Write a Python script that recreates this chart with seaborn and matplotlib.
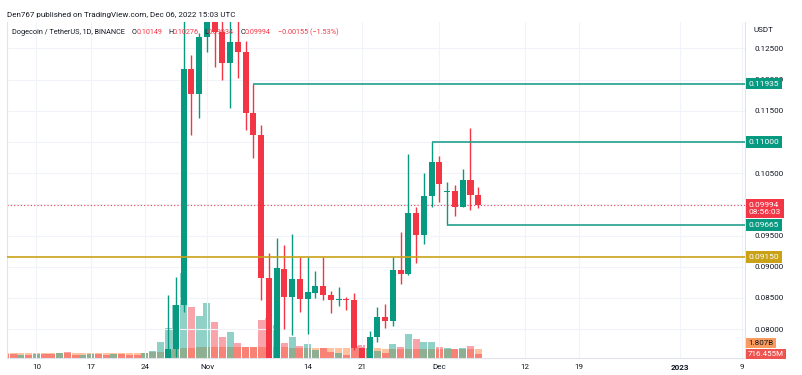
import matplotlib
matplotlib.use("Agg")
import matplotlib.pyplot as plt
import matplotlib.dates as mdates
import numpy as np
import pandas as pd
import seaborn as sns

# daily DOGE/USDT candles, 2022-10-27 .. 2022-12-06
opens = [0.0740, 0.0768, 0.0839, 0.1217, 0.1177, 0.1268, 0.1330, 0.1276, 0.1226, 0.1260,
         0.1244, 0.1146, 0.1111, 0.0882, 0.0740, 0.0896, 0.0851, 0.0880, 0.0848, 0.0858,
         0.0869, 0.0855, 0.0847, 0.0848, 0.0846, 0.0770, 0.0745, 0.0787, 0.0820, 0.0813,
         0.0894, 0.0888, 0.0986, 0.0951, 0.1013, 0.1068, 0.1020, 0.1021, 0.0996, 0.1039,
         0.10149]
highs = [0.0855, 0.0884, 0.1450, 0.1240, 0.1275, 0.1400, 0.1390, 0.1295, 0.1300, 0.1300,
         0.1262, 0.11935, 0.1127, 0.0922, 0.0946, 0.0935, 0.0952, 0.0916, 0.0916, 0.0893,
         0.0916, 0.0861, 0.0868, 0.0852, 0.0858, 0.0772, 0.0797, 0.0835, 0.0841, 0.0916,
         0.0956, 0.1080, 0.0996, 0.1050, 0.1100, 0.1078, 0.1036, 0.1031, 0.1057, 0.1122,
         0.10276]
lows = [0.0735, 0.0755, 0.0827, 0.1111, 0.1138, 0.1244, 0.1220, 0.1199, 0.1154, 0.1202,
        0.1119, 0.1074, 0.0846, 0.0700, 0.0720, 0.0800, 0.0791, 0.0828, 0.0792, 0.0850,
        0.0847, 0.0826, 0.0837, 0.0831, 0.0767, 0.0735, 0.0740, 0.0780, 0.0802, 0.0805,
        0.0872, 0.0887, 0.0906, 0.0936, 0.0996, 0.1004, 0.09665, 0.0981, 0.0995, 0.0991,
        0.09934]
closes = [0.0768, 0.0839, 0.1217, 0.1177, 0.1268, 0.1330, 0.1276, 0.1226, 0.1260, 0.1244,
          0.1146, 0.1111, 0.0882, 0.0740, 0.0898, 0.0851, 0.0880, 0.0848, 0.0859, 0.0869,
          0.0855, 0.0847, 0.0848, 0.0847, 0.0770, 0.0745, 0.0787, 0.0819, 0.0813, 0.0895,
          0.0888, 0.0986, 0.0951, 0.1013, 0.1068, 0.1033, 0.1022, 0.0996, 0.1039, 0.10149,
          0.09994]

# volume in billions, 2022-10-06 .. 2022-12-06
volume = [0.8, 0.8, 0.6, 0.6, 0.8, 0.8, 0.8, 1.0, 1.2, 0.6, 0.6, 0.8, 0.8, 0.6, 0.8, 0.8,
          0.6, 0.6, 1.0, 1.4, 3.2, 6.0, 10.6, 17.0, 10.2, 8.4,
          11.0, 7.2, 4.2, 5.2, 3.0, 2.2, 2.2, 7.6, 8.0, 6.6, 3.0, 4.2, 2.4, 2.8, 1.6,
          2.0, 1.2, 1.0, 0.6, 2.4, 2.6, 2.0, 1.4, 1.0, 2.8, 2.2, 4.8, 3.8, 3.2, 3.2,
          2.2, 2.0, 1.8, 2.0, 2.4, 0.716]
volume_ma = [1.1] * 19 + [1.2, 1.3, 1.5, 1.8, 2.0, 2.1, 2.2,
             2.2, 2.2, 2.2, 2.2, 2.2, 2.2, 2.2, 2.2, 2.2, 2.2, 2.2, 2.1, 2.1, 2.1, 2.1,
             2.1, 2.1, 2.1, 2.0, 2.0, 2.0, 2.0, 2.0, 1.9, 1.9, 1.9, 1.9, 1.9, 1.9, 1.9,
             1.9, 1.9, 1.85, 1.85, 1.82, 1.807]
# bar direction for the days before the first visible candle (Oct 6 .. Oct 26)
early_up = [0, 0, 1, 0, 1, 0, 0, 1, 0, 0, 1, 1, 0, 0, 1, 0, 0, 0, 1, 1, 1]

levels = [0.11935, 0.11000, 0.09665]
level_start = ["2022-11-07", "2022-11-30", "2022-12-02"]
support = 0.09150
last_price = 0.09994

# price scale labels (0.10000 and 0.11000 sit under the level tags)
price_ticks = [0.080, 0.085, 0.090, 0.095, 0.105, 0.115, 0.120, 0.125]
grid_prices = [0.080, 0.085, 0.090, 0.095, 0.100, 0.105, 0.110, 0.115, 0.120, 0.125]

tick_dates = ["2022-10-10", "2022-10-17", "2022-10-24", "2022-11-01", "2022-11-14",
              "2022-11-21", "2022-12-01", "2022-12-12", "2022-12-19", "2023-01-01",
              "2023-01-09"]
tick_labels = ["10", "17", "24", "Nov", "14", "21", "Dec", "12", "19", "2023", "9"]

UP, DOWN = "#089981", "#f23645"
TEAL, GOLD = "#22a08c", "#c9a217"
MA = "#ff9a62"
TXT = "#131722"

sns.set_theme(style="white")
plt.rcParams['font.family'] = ['Roboto', 'DejaVu Sans']

W, H = 802, 375
fig = plt.figure(figsize=(W / 100, H / 100), dpi=100)
ax = fig.add_axes([7 / W, (H - 358) / H, (745 - 7) / W, (358 - 22) / H])
vax = ax.twinx()
ax.set_zorder(vax.get_zorder() + 1)
ax.patch.set_visible(False)

cx = mdates.date2num(pd.date_range("2022-10-27", "2022-12-06"))
vx = mdates.date2num(pd.date_range("2022-10-06", "2022-12-06"))
nov1 = mdates.date2num(pd.Timestamp("2022-11-01"))
x0, x1 = nov1 - 25.8, nov1 + 69.42

o, h, l, c = (np.array(a) for a in (opens, highs, lows, closes))
up = c >= o
col = np.where(up, UP, DOWN)
ax.vlines(cx, l, h, colors=col, lw=1, zorder=3)
ax.bar(cx, np.maximum(np.abs(c - o), 0.00012), bottom=np.minimum(o, c),
       width=0.78, color=col, zorder=4, linewidth=0)

# volume overlay
vol_up = np.concatenate([np.array(early_up, bool), up])
vax.bar(vx, volume_ma, width=0.9, color=MA, alpha=0.6, linewidth=0)
vax.bar(vx, volume, width=0.9, color=np.where(vol_up, UP, DOWN), alpha=0.45, linewidth=0)
vax.set_ylim(0, 336 * 0.2)
vax.set_xlim(x0, x1)
vax.axis("off")

# grid
for g in grid_prices:
    ax.axhline(g, color="#f0f3fa", lw=0.8, zorder=0)

# levels
for lvl, start in zip(levels, level_start):
    ax.hlines(lvl, mdates.date2num(pd.Timestamp(start)), x1, color=TEAL, lw=1.2, zorder=5)
ax.axhline(support, color=GOLD, lw=1.2, zorder=5)
ax.axhline(last_price, color=DOWN, lw=0.8, ls=(0, (1, 2)), zorder=2)

ax.set_xlim(x0, x1)
ax.set_ylim(0.075369, 0.129215)
ax.set_yticks(price_ticks)
ax.set_yticklabels([f"{p:.5f}" for p in price_ticks])
ax.yaxis.tick_right()
ax.set_xticks(mdates.date2num(pd.to_datetime(tick_dates)))
ax.set_xticklabels(tick_labels)
for t in ax.get_xticklabels():
    if t.get_text() == "2023":
        t.set_fontweight("bold")
ax.tick_params(axis="y", length=0, pad=7, labelsize=5.8, labelcolor=TXT)
ax.tick_params(axis="x", length=0, pad=4, labelsize=5.8, labelcolor=TXT)
ax.grid(False)
ax.xaxis.grid(True, color="#f0f3fa", lw=0.8)
for s in ax.spines.values():
    s.set_color("#e0e3eb")
    s.set_linewidth(0.8)
ax.spines["top"].set_visible(False)


def tag(price, text, face, fg="white", dy=0):
    ax.annotate(text, xy=(1, price), xycoords=ax.get_yaxis_transform(),
                xytext=(2.5, dy), textcoords="offset points", ha="left", va="center",
                fontsize=6, color=fg, zorder=10, annotation_clip=False,
                bbox=dict(boxstyle="square,pad=0.35", fc=face, ec="none"))


tag(levels[0], "0.11935", UP)
tag(levels[1], "0.11000", UP)
tag(levels[2], "0.09665", UP)
tag(support, "0.09150", GOLD)
tag(last_price, "0.09994\n08:56:03", DOWN, dy=-3)

fig.text(748 / W, 1 - 343 / H, "1.807B", fontsize=5.8, color=TXT, va="center",
         bbox=dict(boxstyle="square,pad=0.3", fc="#f89b5c", ec="none"))
fig.text(748 / W, 1 - 354 / H, "716.455M", fontsize=5.8, color="white", va="center",
         bbox=dict(boxstyle="square,pad=0.3", fc="#ef5350", ec="none"))
fig.text(753 / W, 1 - 30 / H, "USDT", fontsize=5.8, color=TXT, va="center")

# header
fig.text(7 / W, 1 - 15 / H, "Den767 published on TradingView.com, Dec 06, 2022 15:03 UTC",
         fontsize=5.8, color=TXT, va="center")
parts = [(12, "Dogecoin / TetherUS, 1D, BINANCE", TXT), (132, "O", TXT),
         (137, "0.10149", DOWN), (168, "H", TXT), (173, "0.10276", DOWN),
         (204, "L", TXT), (208, "0.09934", DOWN), (241, "C", TXT),
         (245, "0.09994", DOWN), (278, "\u22120.00155 (\u22121.53%)", DOWN)]
for px, s, color in parts:
    fig.text(px / W, 1 - 32 / H, s, fontsize=5.2, color=color, va="center")

fig.savefig("out.png", dpi=100)
plt.close()
